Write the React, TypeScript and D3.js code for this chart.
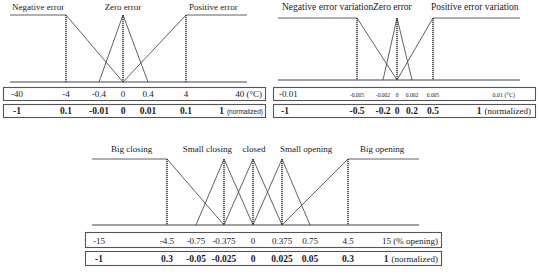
import React from "react";
import * as d3 from "d3";

// ---------- Panel 1: error (°C) ----------
const p1Ticks = [-40, -4, -0.4, 0, 0.4, 4, 40];
const p1Unit = ["-40", "-4", "-0.4", "0", "0.4", "4", "40 (°C)"];
const p1Norm = ["-1", "0.1", "-0.01", "0", "0.01", "0.1", "1"];
const p1Names = ["Negative error", "Zero error", "Positive error"];
const p1Sets: [number, number][][] = [
  [[-40, 1], [-4, 1], [0, 0]],
  [[-0.4, 0], [0, 1], [0.4, 0]],
  [[0, 0], [4, 1], [40, 1]],
];
const p1Verticals = [-4, 0, 4];

// ---------- Panel 2: error variation ----------
const p2Ticks = [-0.01, -0.005, -0.002, 0, 0.002, 0.005, 0.01];
const p2Unit = ["-0.01", "-0.005", "-0.002", "0", "0.002", "0.005", "0.01 (°C)"];
const p2Norm = ["-1", "-0.5", "-0.2", "0", "0.2", "0.5", "1"];
const p2Names = ["Negative error variation", "Zero error", "Positive error variation"];
const p2Sets: [number, number][][] = [
  [[-0.01, 1], [-0.005, 1], [0, 0]],
  [[-0.002, 0], [0, 1], [0.002, 0]],
  [[0, 0], [0.005, 1], [0.01, 1]],
];
const p2Verticals = [-0.005, 0, 0.005];

// ---------- Panel 3: valve opening ----------
const p3Ticks = [-15, -4.5, -0.75, -0.375, 0, 0.375, 0.75, 4.5, 15];
const p3Unit = ["-15", "-4.5", "-0.75", "-0.375", "0", "0.375", "0.75", "4.5", "15 (% opening)"];
const p3Norm = ["-1", "0.3", "-0.05", "-0.025", "0", "0.025", "0.05", "0.3", "1"];
const p3Names = ["Big closing", "Small closing", "closed", "Small opening", "Big opening"];
const p3Sets: [number, number][][] = [
  [[-15, 1], [-4.5, 1], [-0.375, 0]],
  [[-0.75, 0], [-0.375, 1], [0, 0]],
  [[-0.375, 0], [0, 1], [0.375, 0]],
  [[0, 0], [0.375, 1], [0.75, 0]],
  [[0.375, 0], [4.5, 1], [15, 1]],
];
const p3Verticals = [-4.5, -0.375, 0, 0.375, 4.5];

const FONT = "'Liberation Serif', 'Times New Roman', serif";
const LINE = "#444";
const TEXT = "#1a1a1a";

type Label = { at: number; anchor: "start" | "middle" | "end"; dx: number };

type PanelProps = {
  ticks: number[];
  unit: string[];
  norm: string[];
  names: string[];
  sets: [number, number][][];
  verticals: number[];
  range: number[];
  yTop: number;
  yBase: number;
  titleY: number;
  titleSize: number;
  labels: Label[];
  box: { x0: number; x1: number; r1: [number, number]; r2: [number, number] };
  unitSmall?: boolean;
  normSmallSans?: boolean;
  unitRightEdge: number;
  normRightEdge: number;
};

function Panel(p: PanelProps) {
  const x = d3.scaleLinear().domain(p.ticks).range(p.range);
  const y = d3.scaleLinear().domain([0, 1]).range([p.yBase, p.yTop]);
  const line = d3
    .line<[number, number]>()
    .x((d) => x(d[0]))
    .y((d) => y(d[1]));
  const n = p.ticks.length;
  const x0 = x(p.ticks[0]);
  const x1 = x(p.ticks[n - 1]);
  const r1y = p.box.r1[1] - 3.5;
  const r2y = p.box.r2[1] - 3.5;

  return (
    <g>
      {/* baseline */}
      <line x1={x0} x2={x1} y1={y(0)} y2={y(0)} stroke={LINE} strokeWidth={1.2} />
      {/* membership functions */}
      {p.sets.map((s, i) => (
        <path key={"s" + i} d={line(s) || ""} fill="none" stroke={LINE} strokeWidth={0.85} />
      ))}
      {/* dotted verticals */}
      {p.verticals.map((v, i) => (
        <line
          key={"v" + i}
          x1={x(v)}
          x2={x(v)}
          y1={y(1)}
          y2={y(0)}
          stroke="#2a2a2a"
          strokeWidth={1.4}
          strokeDasharray="1.2,0.8"
        />
      ))}
      {/* set names */}
      {p.names.map((name, i) => (
        <text
          key={"n" + i}
          x={x(p.labels[i].at) + p.labels[i].dx}
          y={p.titleY}
          textAnchor={p.labels[i].anchor}
          fontFamily={FONT}
          fontSize={p.titleSize}
          fill={TEXT}
        >
          {name}
        </text>
      ))}
      {/* boxes */}
      <rect
        x={p.box.x0}
        y={p.box.r1[0]}
        width={p.box.x1 - p.box.x0}
        height={p.box.r1[1] - p.box.r1[0]}
        fill="none"
        stroke="#555"
        strokeWidth={1.1}
      />
      <rect
        x={p.box.x0}
        y={p.box.r2[0]}
        width={p.box.x1 - p.box.x0}
        height={p.box.r2[1] - p.box.r2[0]}
        fill="none"
        stroke="#555"
        strokeWidth={1.1}
      />
      {/* unit row */}
      {p.unit.map((t, i) => {
        if (i === n - 1) {
          return (
            <text
              key={"u" + i}
              x={p.unitRightEdge}
              y={r1y}
              textAnchor="end"
              fontFamily={FONT}
              fontSize={p.unitSmall ? 6 : 9}
              fill={TEXT}
            >
              {t}
            </text>
          );
        }
        const first = i === 0;
        return (
          <text
            key={"u" + i}
            x={first ? x(p.ticks[i]) + 1 : x(p.ticks[i])}
            y={r1y}
            textAnchor={first ? "start" : "middle"}
            fontFamily={FONT}
            fontSize={p.unitSmall && !first ? 5.5 : 9}
            fill={TEXT}
          >
            {t}
          </text>
        );
      })}
      {/* normalized row */}
      {p.norm.map((t, i) => {
        if (i === n - 1) {
          return (
            <text
              key={"m" + i}
              x={p.normRightEdge}
              y={r2y}
              textAnchor="end"
              fontFamily={FONT}
              fill={TEXT}
            >
              <tspan fontWeight="bold" fontSize={9.5}>
                {t}
              </tspan>
              <tspan
                dx={3}
                fontSize={p.normSmallSans ? 6.5 : 9}
                fontFamily={p.normSmallSans ? "'Liberation Sans', Arial, sans-serif" : FONT}
              >
                (normalized)
              </tspan>
            </text>
          );
        }
        const first = i === 0;
        return (
          <text
            key={"m" + i}
            x={first ? x(p.ticks[i]) + 3 : x(p.ticks[i])}
            y={r2y}
            textAnchor={first ? "start" : "middle"}
            fontFamily={FONT}
            fontWeight="bold"
            fontSize={9.5}
            fill={TEXT}
          >
            {t}
          </text>
        );
      })}
    </g>
  );
}

export default function App() {
  return (
    <svg
      width={539}
      height={275}
      style={{ position: "absolute", left: 0, top: 0, background: "#fff" }}
    >
      <rect width={539} height={275} fill="#fff" />
      <Panel
        ticks={p1Ticks}
        unit={p1Unit}
        norm={p1Norm}
        names={p1Names}
        sets={p1Sets}
        verticals={p1Verticals}
        range={[10, 66, 99, 123, 148, 186, 247]}
        yTop={15}
        yBase={82}
        titleY={10}
        titleSize={9}
        labels={[
          { at: -40, anchor: "start", dx: 2 },
          { at: 0, anchor: "middle", dx: 0 },
          { at: 4, anchor: "start", dx: 3 },
        ]}
        box={{ x0: 3.5, x1: 265.5, r1: [87.5, 100.5], r2: [104.5, 117.5] }}
        normSmallSans
        unitRightEdge={262}
        normRightEdge={263}
      />
      <Panel
        ticks={p2Ticks}
        unit={p2Unit}
        norm={p2Norm}
        names={p2Names}
        sets={p2Sets}
        verticals={p2Verticals}
        range={[278, 357, 383, 397, 412, 433, 520]}
        yTop={18}
        yBase={80}
        titleY={10}
        titleSize={9.5}
        labels={[
          { at: -0.01, anchor: "start", dx: 4 },
          { at: 0, anchor: "start", dx: -24 },
          { at: 0.005, anchor: "start", dx: -2 },
        ]}
        box={{ x0: 273.5, x1: 535.5, r1: [87.5, 100.5], r2: [104.5, 117.5] }}
        unitSmall
        unitRightEdge={515}
        normRightEdge={531}
      />
      <Panel
        ticks={p3Ticks}
        unit={p3Unit}
        norm={p3Norm}
        names={p3Names}
        sets={p3Sets}
        verticals={p3Verticals}
        range={[92, 167, 196, 224, 253, 282, 310, 348, 419]}
        yTop={159}
        yBase={225}
        titleY={152}
        titleSize={9}
        labels={[
          { at: -15, anchor: "start", dx: 19 },
          { at: -0.375, anchor: "end", dx: 8 },
          { at: 0, anchor: "middle", dx: 1 },
          { at: 0.375, anchor: "start", dx: -2 },
          { at: 4.5, anchor: "start", dx: 12 },
        ]}
        box={{ x0: 85.5, x1: 441.5, r1: [232.5, 247.5], r2: [251.5, 265.5] }}
        unitRightEdge={438}
        normRightEdge={438}
      />
    </svg>
  );
}
